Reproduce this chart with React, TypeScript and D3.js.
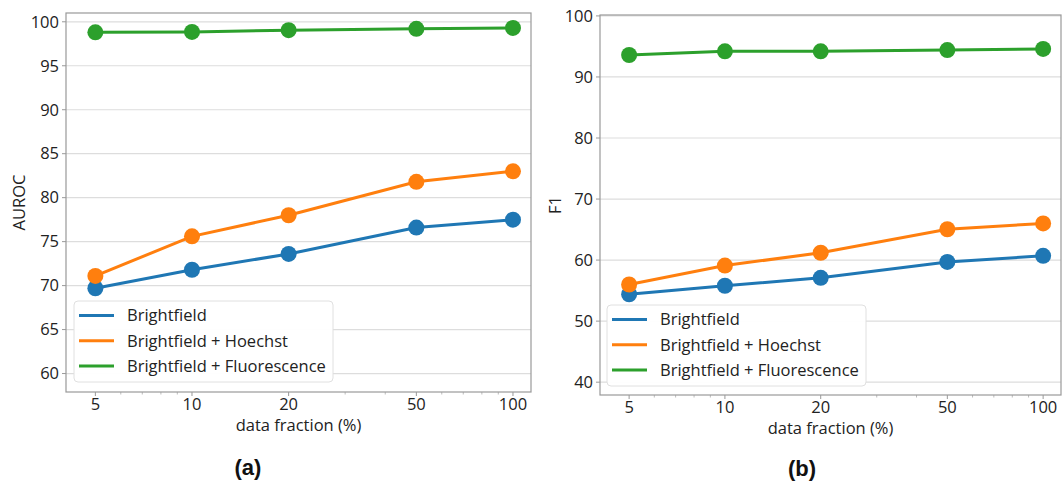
import React from "react";
import * as d3 from "d3";

const fractions = [5, 10, 20, 50, 100];
const xTickLabels = ["5", "10", "20", "50", "100"];
const seriesNames = ["Brightfield", "Brightfield + Hoechst", "Brightfield + Fluorescence"];
const seriesColors = ["#1f77b4", "#ff7f0e", "#2ca02c"];

const aurocBright = [69.7, 71.8, 73.6, 76.6, 77.5];
const aurocHoechst = [71.1, 75.6, 78.0, 81.8, 83.0];
const aurocFluor = [98.8, 98.85, 99.05, 99.2, 99.3];
const aurocTicks = [60, 65, 70, 75, 80, 85, 90, 95, 100];

const f1Bright = [54.4, 55.8, 57.1, 59.7, 60.7];
const f1Hoechst = [56.0, 59.1, 61.2, 65.05, 66.0];
const f1Fluor = [93.6, 94.2, 94.2, 94.4, 94.6];
const f1Ticks = [40, 50, 60, 70, 80, 90, 100];

const minorX = [6, 7, 8, 9, 30, 40, 60, 70, 80, 90];

const FONT = "'Open Sans', 'DejaVu Sans', sans-serif";
const FS = 16.5;

type PanelProps = {
  left: number;
  right: number;
  top: number;
  bottom: number;
  yDomain: [number, number];
  yTicks: number[];
  series: number[][];
  yLabel: string;
  yLabelX: number;
  legend: { x: number; y: number; w: number; h: number };
  caption: string;
  captionX: number;
  captionY: number;
};

function Panel(p: PanelProps) {
  const x = d3.scaleLog().domain([4.05, 113.8]).range([p.left, p.right]);
  const y = d3.scaleLinear().domain(p.yDomain).range([p.bottom, p.top]);
  const line = d3
    .line<number>()
    .x((_, i) => x(fractions[i]))
    .y((d) => y(d));
  const cx = (p.left + p.right) / 2;
  const cy = (p.top + p.bottom) / 2;
  return (
    <g>
      {p.yTicks.map((t) => (
        <g key={t}>
          <line x1={p.left} x2={p.right} y1={y(t)} y2={y(t)} stroke="#dddddd" strokeWidth={1.2} />
          <line x1={p.left - 4} x2={p.left} y1={y(t)} y2={y(t)} stroke="#999" strokeWidth={1} />
          <text x={p.left - 7} y={y(t)} dy="0.35em" textAnchor="end" fontSize={FS} fill="#222" fontFamily={FONT}>
            {t}
          </text>
        </g>
      ))}
      {fractions.map((f, i) => (
        <g key={f}>
          <line x1={x(f)} x2={x(f)} y1={p.bottom} y2={p.bottom + 4} stroke="#999" strokeWidth={1} />
          <text x={x(f)} y={p.bottom + 17.5} textAnchor="middle" fontSize={FS} fill="#222" fontFamily={FONT}>
            {xTickLabels[i]}
          </text>
        </g>
      ))}
      {minorX.map((f) => (
        <line key={f} x1={x(f)} x2={x(f)} y1={p.bottom} y2={p.bottom + 2.5} stroke="#aaa" strokeWidth={0.8} />
      ))}
      <rect x={p.left} y={p.top} width={p.right - p.left} height={p.bottom - p.top} fill="none" stroke="#999" strokeWidth={1.2} />
      {p.series.map((s, k) => (
        <g key={k}>
          <path d={line(s) || ""} fill="none" stroke={seriesColors[k]} strokeWidth={3} />
          {s.map((v, i) => (
            <circle key={i} cx={x(fractions[i])} cy={y(v)} r={8} fill={seriesColors[k]} />
          ))}
        </g>
      ))}
      <rect x={p.legend.x} y={p.legend.y} width={p.legend.w} height={p.legend.h} rx={4} fill="white" fillOpacity={0.95} stroke="#e0e0e0" strokeWidth={1} />
      {seriesNames.map((n, k) => {
        const ly = p.legend.y + 14.5 + k * 25.3;
        return (
          <g key={n}>
            <line x1={p.legend.x + 5} x2={p.legend.x + 40} y1={ly} y2={ly} stroke={seriesColors[k]} strokeWidth={3} />
            <text x={p.legend.x + 53} y={ly} dy="0.35em" fontSize={FS} fill="#222" fontFamily={FONT}>
              {n}
            </text>
          </g>
        );
      })}
      <text x={cx} y={p.bottom + 39} textAnchor="middle" fontSize={FS} fill="#222" fontFamily={FONT}>
        data fraction (%)
      </text>
      <text
        transform={`translate(${p.yLabelX},${cy}) rotate(-90)`}
        textAnchor="middle"
        dy="0.35em"
        fontSize={FS}
        fill="#222"
        fontFamily={FONT}
      >
        {p.yLabel}
      </text>
      <text x={p.captionX} y={p.captionY} textAnchor="middle" dy="0.35em" fontSize={22} fontWeight="bold" fill="#111" fontFamily="'Liberation Sans', Arial, sans-serif">
        {p.caption}
      </text>
    </g>
  );
}

export default function App() {
  return (
    <svg width={1063} height={481} style={{ position: "absolute", left: 0, top: 0, background: "white" }}>
      <rect width={1063} height={481} fill="white" />
      <Panel
        left={66}
        right={531}
        top={13}
        bottom={392}
        yDomain={[57.9, 101.0]}
        yTicks={aurocTicks}
        series={[aurocBright, aurocHoechst, aurocFluor]}
        yLabel="AUROC"
        yLabelX={19}
        legend={{ x: 74, y: 301, w: 259, h: 81 }}
        caption="(a)"
        captionX={248}
        captionY={467}
      />
      <Panel
        left={600}
        right={1061}
        top={15}
        bottom={395}
        yDomain={[37.9, 100.15]}
        yTicks={f1Ticks}
        series={[f1Bright, f1Hoechst, f1Fluor]}
        yLabel="F1"
        yLabelX={555}
        legend={{ x: 607, y: 305, w: 259, h: 81 }}
        caption="(b)"
        captionX={802}
        captionY={468}
      />
    </svg>
  );
}
